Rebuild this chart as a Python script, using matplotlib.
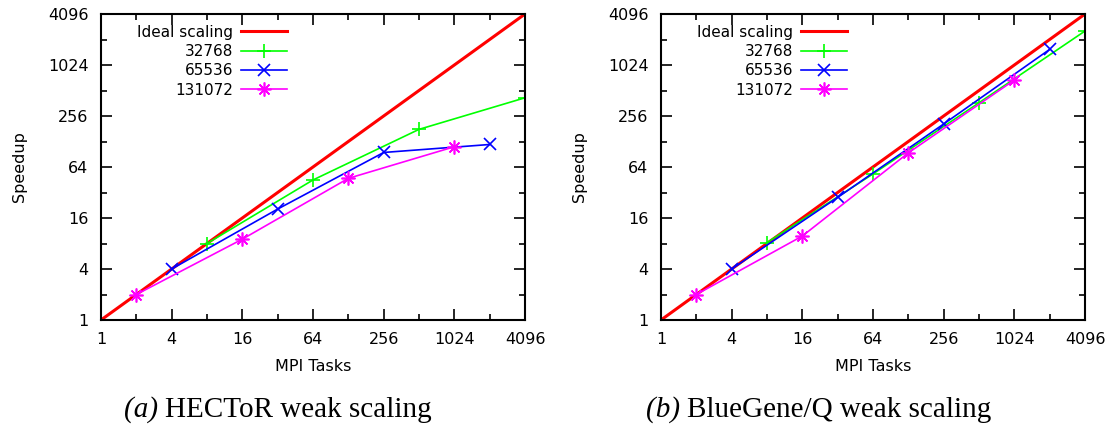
import matplotlib.pyplot as plt
import numpy as np

fontsize = 11.5

# data (MPI tasks vs speedup)
ideal_x = [1, 4096]
ideal_y = [1, 4096]

hector_32768_x = [8, 64, 512, 4096]
hector_32768_y = [8, 45, 178, 420]
hector_65536_x = [4, 32, 256, 2048]
hector_65536_y = [4, 20.4, 95, 118]
hector_131072_x = [2, 16, 128, 1024]
hector_131072_y = [2, 9, 47, 111]

bgq_32768_x = [8, 64, 512, 4096]
bgq_32768_y = [8.2, 53, 367, 2580]
bgq_65536_x = [4, 32, 256, 2048]
bgq_65536_y = [4, 28, 206, 1565]
bgq_131072_x = [2, 16, 128, 1024]
bgq_131072_y = [2, 9.8, 94, 680]

tick_vals = [1, 4, 16, 64, 256, 1024, 4096]
captions = ['HECToR weak scaling', 'BlueGene/Q weak scaling']
letters = ['(a)', '(b)']


def plot_panel(ax, s1, s2, s3):
    ax.plot(ideal_x, ideal_y, '-', color='#ff0000', lw=2.2, label='Ideal scaling')
    ax.plot(s1[0], s1[1], '-', color='#00ff00', lw=1.2, marker='+', ms=10, mew=1.2, label='32768')
    ax.plot(s2[0], s2[1], '-', color='#0000ff', lw=1.2, marker='x', ms=8, mew=1.2, label='65536')
    ax.plot(s3[0], s3[1], '-', color='#ff00ff', lw=1.2, marker=(8, 2, 0), ms=10, mew=1.2, label='131072')
    ax.set_xscale('log', base=2)
    ax.set_yscale('log', base=2)
    ax.set_xlim(1, 4096)
    ax.set_ylim(1, 4096)
    ax.set_xticks(tick_vals)
    ax.set_xticklabels([str(v) for v in tick_vals])
    ax.set_yticks(tick_vals)
    ax.set_yticklabels([str(v) for v in tick_vals])
    minor = [2.0 ** k for k in range(1, 12, 2)]
    ax.set_xticks(minor, minor=True)
    ax.set_yticks(minor, minor=True)
    ax.xaxis.set_minor_formatter(plt.NullFormatter())
    ax.yaxis.set_minor_formatter(plt.NullFormatter())
    ax.tick_params(which='both', direction='in', top=True, right=True, labelsize=fontsize, width=1.2)
    ax.tick_params(which='major', length=8, pad=9)
    ax.tick_params(which='minor', length=4)
    for sp in ax.spines.values():
        sp.set_linewidth(1.5)
    ax.set_xlabel('MPI Tasks', fontsize=11.5, labelpad=8)
    ax.set_ylabel('Speedup', fontsize=11.5, labelpad=15)
    ax.legend(loc='upper right', frameon=False, markerfirst=False, fontsize=11,
              handlelength=3.0, handletextpad=0.5, labelspacing=0.28,
              borderaxespad=0.0, bbox_to_anchor=(0.452, 0.985))


fig0 = plt.figure(figsize=(11.12, 4.28), dpi=100)
ax0 = fig0.add_axes([101 / 1112, 108 / 428, 424 / 1112, 306 / 428])
ax1 = fig0.add_axes([661 / 1112, 108 / 428, 424 / 1112, 306 / 428])

plot_panel(ax0, (hector_32768_x, hector_32768_y), (hector_65536_x, hector_65536_y),
           (hector_131072_x, hector_131072_y))
plot_panel(ax1, (bgq_32768_x, bgq_32768_y), (bgq_65536_x, bgq_65536_y),
           (bgq_131072_x, bgq_131072_y))

# captions: italic letter, then upright text
split_x = [165 / 1112, 687 / 1112]
for sx, let, cap in zip(split_x, letters, captions):
    fig0.text(sx, 0.042, let + ' ', ha='right', va='center', fontsize=21,
              family='Liberation Serif', style='italic')
    fig0.text(sx, 0.042, cap, ha='left', va='center', fontsize=21, family='Liberation Serif')

fig0.savefig('out.png', dpi=100)
